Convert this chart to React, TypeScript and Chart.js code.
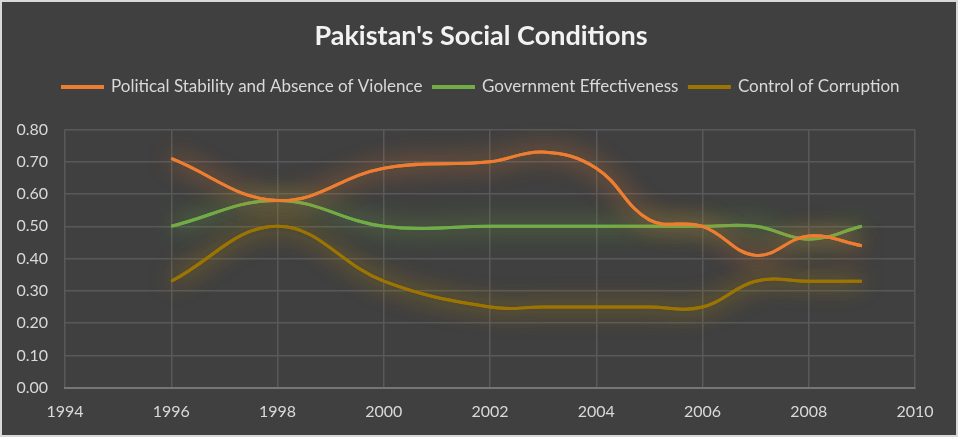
import { useEffect, useRef } from 'react';
import { Chart, registerables, Plugin } from 'chart.js';
Chart.register(...registerables);

const YEARS = [1996, 1998, 2000, 2002, 2003, 2004, 2005, 2006, 2007, 2008, 2009];
const POLITICAL = [0.71, 0.58, 0.68, 0.70, 0.73, 0.68, 0.52, 0.50, 0.41, 0.47, 0.44];
const GOVERNMENT = [0.50, 0.58, 0.50, 0.50, 0.50, 0.50, 0.50, 0.50, 0.50, 0.46, 0.50];
const CORRUPTION = [0.33, 0.50, 0.33, 0.25, 0.25, 0.25, 0.25, 0.25, 0.33, 0.33, 0.33];

const SERIES = [
  { label: 'Political Stability and Absence of Violence', values: POLITICAL, color: '#ED7D31', glow: 'rgba(237,125,49,0.75)' },
  { label: 'Government Effectiveness', values: GOVERNMENT, color: '#70AD47', glow: 'rgba(112,173,71,0.75)' },
  { label: 'Control of Corruption', values: CORRUPTION, color: '#9C7400', glow: 'rgba(191,143,0,0.75)' },
];

const FONT = 'Lato, "Open Sans", sans-serif';

// soft glow round each line, like Excel's glow effect (drawn twice to thicken it)
const glow: Plugin<'line'> = {
  id: 'glow',
  beforeDatasetDraw(chart, args) {
    const ctx = chart.ctx;
    ctx.save();
    ctx.shadowColor = SERIES[args.index].glow;
    ctx.shadowBlur = 24;
    args.meta.controller.draw();
  },
  afterDatasetDraw(chart) {
    chart.ctx.restore();
  },
};

// extra room under the legend
const legendGap: Plugin<'line'> = {
  id: 'legendGap',
  beforeInit(chart: any) {
    const legend = chart.legend;
    if (!legend) return;
    const fit = legend.fit;
    legend.fit = function () {
      fit.call(this);
      this.height += 24;
    };
  },
};

export default function App() {
  const canvasRef = useRef<HTMLCanvasElement>(null);

  useEffect(() => {
    document.body.style.margin = '0';
    if (!canvasRef.current) return;
    const chart = new Chart(canvasRef.current, {
      type: 'line',
      data: {
        datasets: SERIES.map(s => ({
          label: s.label,
          data: YEARS.map((x, i) => ({ x, y: s.values[i] })),
          borderColor: s.color,
          backgroundColor: s.color,
          borderWidth: 3,
          pointRadius: 0,
          tension: 0.4,
          fill: false,
        })),
      },
      options: {
        animation: false,
        responsive: false,
        maintainAspectRatio: false,
        layout: { padding: { left: 4, right: 0, top: 14, bottom: 0 } },
        plugins: {
          title: {
            display: true,
            text: "Pakistan's Social Conditions",
            color: '#F2F2F2',
            font: { family: FONT, size: 27, weight: 'bold' },
            padding: { top: 4, bottom: 15 },
          },
          legend: {
            labels: {
              color: '#D9D9D9',
              font: { family: FONT, size: 17 },
              boxWidth: 40,
              boxHeight: 1,
              padding: 11,
            },
          },
          tooltip: { enabled: false },
        },
        scales: {
          x: {
            type: 'linear',
            min: 1994,
            max: 2010,
            ticks: { stepSize: 2, color: '#D9D9D9', font: { family: FONT, size: 16 }, padding: 14, callback: v => String(v) },
            grid: { color: '#595959', lineWidth: 1.5, drawTicks: false },
            border: { color: '#767676', width: 2 },
          },
          y: {
            min: 0,
            max: 0.8,
            ticks: { stepSize: 0.1, color: '#D9D9D9', font: { family: FONT, size: 16 }, padding: 17, callback: v => Number(v).toFixed(2) },
            grid: { color: '#595959', lineWidth: 1.5, drawTicks: false },
            border: { display: false },
            afterFit: (scale: any) => { scale.width = 59; },
          },
          // empty right-hand axis, only to reserve the right margin
          spacer: {
            type: 'linear',
            position: 'right',
            ticks: { display: false },
            grid: { display: false },
            border: { display: false },
            afterFit: (scale: any) => { scale.width = 41; },
          },
        },
      },
      plugins: [legendGap, glow],
    });
    return () => chart.destroy();
  }, []);

  return (
    <div style={{ width: 958, height: 437, boxSizing: 'border-box', border: '2px solid #D9D9D9', background: '#404040' }}>
      <canvas ref={canvasRef} width={954} height={433} style={{ display: 'block' }} />
    </div>
  );
}
